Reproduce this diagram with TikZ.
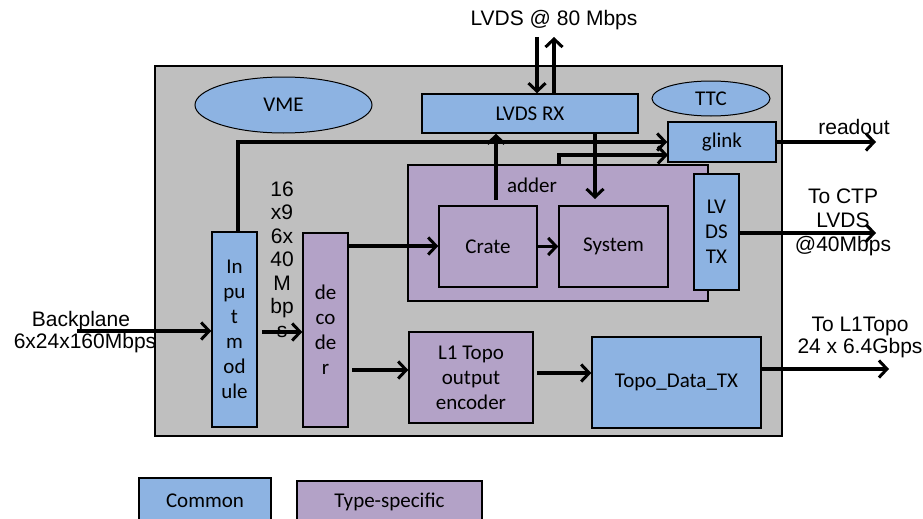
\documentclass[tikz,border=0pt]{standalone}
\usepackage{fontspec}
\setmainfont{Liberation Sans}
\newfontfamily\boxfont{Carlito}
\usetikzlibrary{arrows.meta,shapes.geometric}
\definecolor{cblue}{HTML}{8DB3E2}
\definecolor{cpurp}{HTML}{B3A2C7}
\definecolor{cgray}{HTML}{BFBFBF}
\begin{document}
\begin{tikzpicture}[x=1pt,y=-1pt,
  blk/.style={draw=black,line width=1.5pt,inner sep=0pt,font=\boxfont\fontsize{21}{25}\selectfont,align=center},
  com/.style={blk,fill=cblue},
  spec/.style={blk,fill=cpurp},
  ell/.style={ellipse,draw=black,line width=1pt,fill=cblue,inner sep=0pt,font=\boxfont\fontsize{21}{25}\selectfont},
  arr/.style={line width=3.5pt,-{Straight Barb[length=8pt,width=17pt,line width=3pt]}},
  lbl/.style={font=\fontsize{21}{23.5}\selectfont,align=center,inner sep=0pt}]
\clip (0,0) rectangle (923,519);
% main board
\node[draw=black,line width=1.5pt,fill=cgray,minimum width=627pt,minimum height=370pt,inner sep=0pt] (board) at (468.5,251) {};
% ellipses
\node[ell,minimum width=177pt,minimum height=56pt] (vme) at (283.5,105) {VME};
\node[ell,minimum width=118pt,minimum height=35pt] (ttc) at (711,98.5) {TTC};
% blocks
\node[com,minimum width=216pt,minimum height=39pt] (lvdsrx) at (530,113.5) {LVDS RX};
\node[com,minimum width=108pt,minimum height=40pt] (glink) at (722,142) {glink};
\node[spec,minimum width=300pt,minimum height=136pt] (adder) at (558,233) {};
\node[font=\boxfont\fontsize{21}{25}\selectfont,inner sep=0pt] (adderlbl) at (532,185) {adder};
\node[spec,minimum width=98pt,minimum height=81pt] (crate) at (488,246.5) {Crate};
\node[spec,minimum width=109pt,minimum height=81pt] (system) at (613.5,246.5) {System};
\node[com,minimum width=45pt,minimum height=116pt] (lvdstx) at (716.5,232) {LV\\DS\\TX};
\node[com,minimum width=45pt,minimum height=195pt] (input) at (234.5,329.5) {In\\pu\\t\\m\\od\\ule};
\node[spec,minimum width=45pt,minimum height=194pt] (decoder) at (325.5,330) {de\\co\\de\\r};
\node[spec,minimum width=124pt,minimum height=91pt] (enc) at (471,377.5) {L1 Topo\\output\\encoder};
\node[com,minimum width=169pt,minimum height=91pt] (topo) at (676.5,382.5) {Topo\_Data\_TX};
% legend
\node[com,minimum width=132pt,minimum height=50pt] (lcom) at (205,503) {};
\node[font=\boxfont\fontsize{21}{25}\selectfont,inner sep=0pt] (lcomt) at (205,501) {Common};
\node[spec,minimum width=185pt,minimum height=50pt] (lspec) at (389.5,506) {};
\node[font=\boxfont\fontsize{21}{25}\selectfont,inner sep=0pt] (lspect) at (389.5,502) {Type-specific};
% outside labels
\node[lbl,font=\fontsize{21}{24}\selectfont] (lvdslbl) at (554,20) {LVDS @ 80 Mbps};
\node[lbl] (readout) at (854,127) {readout};
\node[lbl,font=\fontsize{21}{24}\selectfont] (ctp) at (843,222) {To CTP\\LVDS\\@40Mbps};
\node[lbl,font=\fontsize{21}{21.5}\selectfont] (l1topo) at (860,337.5) {To L1Topo\\24 x 6.4Gbps};
\node[lbl] (bp1) at (81,321) {Backplane};
\node[lbl] (bp2) at (85,343) {6x24x160Mbps};
\node[lbl] (rate) at (282,259.5) {16\\x9\\6x\\40\\M\\bp\\s};
% coordinates
\coordinate (lvin) at (537,37);
\coordinate (lvout) at (554,37);
\coordinate (sysin) at (595,133);
\coordinate (sysend) at (595,199);
\coordinate (crout) at (496,200);
\coordinate (inup) at (238,232);
\coordinate (incorner) at (238,142);
\coordinate (adup) at (559,165);
\coordinate (adcorner) at (559,155);
\coordinate (glin2) at (668,155);
\coordinate (bpin) at (77,331);
\coordinate (ro) at (876,142);
\coordinate (ctpo) at (876,233);
\coordinate (l1o) at (889,369);
\coordinate (in2dec) at (262,332);
\coordinate (y246) at (0,246);
\coordinate (enc0) at (352,370);
\coordinate (top0) at (537,373);
\coordinate (y233) at (0,233);
\coordinate (y369) at (0,369);
% connectors
\draw[arr] (lvin) -- (lvin |- lvdsrx.north);
\draw[arr] (lvout |- lvdsrx.north) -- (lvout);
\draw[arr] (sysin) -- (sysend);
\draw[arr] (crout) -- (crout |- lvdsrx.south);
\draw[arr] (inup) -- (incorner) -- (glink.west);
\draw[arr] (adup) -- (adcorner) -- (glin2);
\draw[arr] (glink.east) -- (ro);
\draw[arr] (bpin) -- (input.west |- bpin);
\draw[arr] (in2dec) -- (decoder.west |- in2dec);
\draw[arr] (decoder.east |- y246) -- (crate.west |- y246);
\draw[arr] (crate.east) -- (system.west);
\draw[arr] (enc0) -- (enc.west |- enc0);
\draw[arr] (top0) -- (topo.west |- top0);
\draw[arr] (lvdstx.east |- y233) -- (ctpo);
\draw[arr] (topo.east |- y369) -- (l1o);
\end{tikzpicture}
\end{document}
